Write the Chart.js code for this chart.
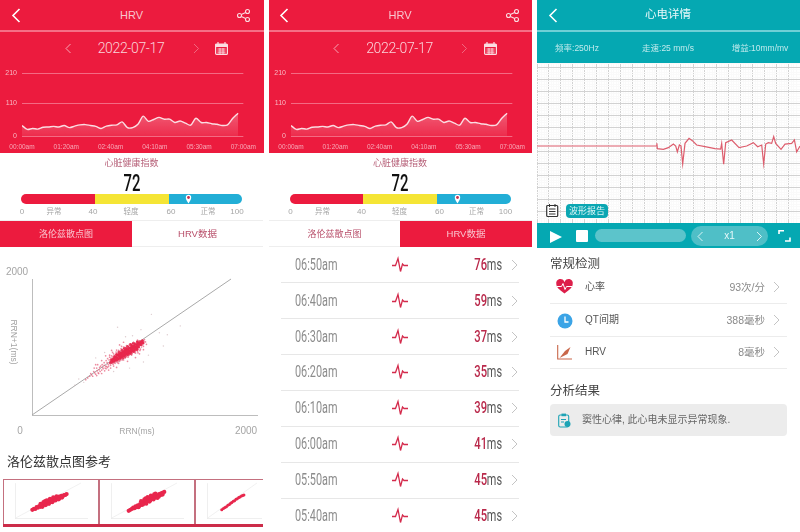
<!DOCTYPE html>
<html><head><meta charset="utf-8">
<script src="https://cdn.jsdelivr.net/npm/chart.js@4"></script>
<style>
html,body{margin:0;padding:0;background:#fff;width:800px;height:532px;overflow:hidden;font-family:"Liberation Sans","Noto Sans CJK SC",sans-serif}
#app{position:absolute;left:0;top:0;width:800px;height:532px;overflow:hidden;filter:blur(.3px)}
.b{position:absolute}
.t{position:absolute;white-space:nowrap;line-height:1}
canvas{position:absolute}
svg{position:absolute;overflow:visible}
</style></head><body><div id="app"></div>
<script>
// ---------- chart data ----------
const hrvMinutes=[0,10,20,30,40,50,60,70,80,90,100,110,120,130,140,150,160,170,180,190,200,210,220,230,240,250,260,270,280,290,300,310,320,330,340,350,360,370,380,390,400,410];
const hrvValues=[35,22,25,23,29,30,32,30,35,28,33,37,38,35,32,25,33,36,37,47,28,28,39,66,49,55,62,56,56,45,50,43,36,59,45,45,41,39,35,37,59,76];
const hrvTickPositions=[0,84,168,252,336,420];
const hrvTickLabels=["00:00am","01:20am","02:40am","04:10am","05:30am","07:00am"];
const hrvYTicks=[0,110,210];
const listTimes=["06:50am","06:40am","06:30am","06:20am","06:10am","06:00am","05:50am","05:40am"];
const listValues=[76,59,37,35,39,41,45,45];
const scoreValue=72;
const scoreLabels=[["0",22],["异常",54],["40",93],["轻度",131],["60",171],["正常",208],["100",237]];
const diagonal=[{x:0,y:0},{x:2000,y:2000}];
const scatterCoreXY=[[790,770],[800,810],[810,780],[820,830],[825,790],[835,815],[840,855],[850,805],[855,835],[865,880],[870,825],[880,860],[885,895],[890,845],[900,880],[905,915],[910,860],[920,900],[925,935],[930,875],[940,915],[945,950],[950,895],[960,930],[965,965],[970,905],[980,945],[985,985],[990,925],[1000,965],[1005,1000],[1010,940],[1020,985],[1025,1020],[1030,960],[1040,1000],[1045,1040],[1050,985],[1060,1020],[1065,1055],[1070,1000],[1080,1040],[1085,1075],[1095,1035],[1100,1065],[1110,1090],[1115,1060],[1060,1075],[1000,1020],[940,975],[880,915],[830,860],[850,890],[875,925],[905,950],[930,980],[960,1005],[990,1035],[1020,1055],[880,825],[910,840],[935,860],[965,885],[995,905],[1025,935],[1055,965]];
const scatterMidXY=[[560,545],[590,610],[610,570],[620,640],[640,600],[650,690],[665,620],[680,700],[685,640],[700,660],[705,740],[715,680],[725,770],[735,690],[745,800],[750,710],[760,830],[770,720],[780,850],[790,730],[800,870],[815,745],[820,900],[835,760],[845,925],[860,770],[870,950],[880,790],[895,975],[905,810],[920,1000],[935,835],[950,1020],[965,850],[980,1040],[1000,880],[1020,1070],[1040,910],[1060,1100],[1085,950],[1100,1000],[1130,1110],[1120,1010],[1140,1075],[700,610],[660,740],[770,660],[850,700],[960,790],[1040,845],[880,1030],[800,950],[740,870],[640,740],[700,800],[920,1070],[1080,900],[1150,1040],[1120,960],
[630,620],[655,650],[675,665],[690,720],[710,700],[725,730],[740,720],[755,770],[765,745],[775,810],[785,755],[795,835],[805,760],[815,860],[825,770],[835,880],[845,780],[855,910],[865,790],[875,930],[885,810],[895,940],[905,830],[915,960],[925,845],[935,990],[945,860],[955,1000],[970,875],[985,1015],[1000,895],[1015,1040],[1030,920],[1045,1060],[1060,935],[1075,1085],[1090,970],[760,700],[790,690],[820,720],[870,760],[920,810],[780,880],[810,920],[850,955],[900,1010],[730,650],[745,680],[670,610],[600,590],[580,570],[540,520],[650,580],[625,690],[1110,1030],[1125,1085],[1065,915]];
const scatterFarXY=[[1320,1015],[1490,1310],[1200,1480],[1095,1255],[860,1290],[470,530],[520,480],[980,690],[1170,880],[1360,1180],[730,920],[1010,1165],[1280,1210],[940,1150],[1120,780],[640,840],[820,640],[430,440]];
const thumb1XY=[[510,470],[560,530],[600,520],[640,620],[680,590],[720,680],[760,640],[780,760],[820,720],[850,830],[880,760],[910,880],[950,810],[980,940],[1010,860],[1040,990],[1070,920],[1100,1040],[1130,970],[1160,1090],[1190,1020],[1220,1130],[1250,1070],[1280,1180],[1310,1120],[1340,1220],[1370,1170],[1400,1260],[1440,1240],[1480,1310],[1520,1320],[1560,1365],[900,960],[1000,1000],[1100,950],[1200,1130],[1300,1210],[760,810],[850,910],[950,1010],[1050,1100],[1150,1180],[1250,1240],[820,640],[920,740],[1020,810],[1120,900],[1220,1000],[1320,1070],[1420,1170]];
const thumb2XY=[[520,410],[570,470],[620,520],[660,590],[700,560],[730,660],[770,620],[800,730],[840,680],[870,800],[910,750],[940,880],[980,820],[1010,960],[1050,880],[1080,1040],[1120,960],[1150,1120],[1190,1040],[1220,1180],[1260,1110],[1290,1240],[1330,1170],[1370,1300],[1410,1240],[1450,1360],[1500,1310],[1550,1440],[1610,1490],[1040,1130],[1180,1000],[1300,1350],[1440,1220],[900,960],[1000,1060],[1100,1200],[1200,1280],[1340,1400],[820,620],[950,760],[1060,820],[1160,940],[1280,1060],[1400,1150],[1500,1400],[1560,1340]];
const thumb3XY=[[570,470],[640,540],[700,600],[760,650],[820,730],[880,770],[930,850],[980,880],[1040,960],[1090,990],[1150,1070],[1200,1100],[1260,1170],[1310,1200],[1370,1260],[1420,1280],[1470,1310]];
const ecgMs=[-200,1795,1798,1806,1906,1989,2073,2112,2139,2173,2200,2228,2267,2334,2389,2461,2600,2767,2861,2878,2911,2945,3045,3167,3295,3406,3478,3545,3578,3612,3656,3711,3745,3778,3867,3934,4045,4090,4128,4184];
const ecgMv=[.23,.23,.34,.12,.09,.16,.31,.23,-.01,.27,.23,-.52,.34,.55,.45,.27,.2,.12,.1,.34,-.53,.37,.48,.16,.23,.37,.2,.27,-.52,.31,.37,.34,.62,.34,.09,.31,.34,.48,-.01,.23];

// ---------- helpers for the surrounding app UI ----------
const app=document.getElementById('app');
const RED='#ec1b3e',TEAL='#05a8b2';
function box(x,y,w,h,bg,extra){const d=document.createElement('div');d.className='b';d.style.cssText=`left:${x}px;top:${y}px;width:${w}px;height:${h}px;background:${bg};${extra||''}`;app.appendChild(d);return d;}
function txt(x,y,s,size,color,o){o=o||{};const d=document.createElement('div');d.className='t';d.textContent=s;
 const tx=o.align==='left'?'0':o.align==='right'?'-100%':'-50%';
 d.style.cssText=`left:${x}px;top:${y}px;font-size:${size}px;color:${color};transform:translate(${tx},-50%) ${o.tf||''};transform-origin:${o.align==='left'?'left':o.align==='right'?'right':'center'} center;${o.css||''}`;
 app.appendChild(d);return d;}
function svg(x,y,w,h,inner){const s=document.createElementNS('http://www.w3.org/2000/svg','svg');s.setAttribute('width',w);s.setAttribute('height',h);s.setAttribute('viewBox',`0 0 ${w} ${h}`);s.style.left=x+'px';s.style.top=y+'px';s.innerHTML=inner;app.appendChild(s);return s;}
function chev(cx,cy,size,color,dir,sw){const a=size,b=size/2*1;const p=dir<0?`${b},0 0,${a/2} ${b},${a}`:`0,0 ${b},${a/2} 0,${a}`;
 svg(cx-b/2,cy-a/2,b,a,`<polyline points="${p}" fill="none" stroke="${color}" stroke-width="${sw||1}"/>`);}
function shareIcon(x,y,c){svg(x,y,13,13,`<g fill="none" stroke="${c}" stroke-width="1.1"><circle cx="10.5" cy="2.5" r="2"/><circle cx="10.5" cy="10.5" r="2"/><circle cx="2.5" cy="6.5" r="2"/><path d="M4.3 5.6L8.7 3.4M4.3 7.4L8.7 9.6"/></g>`);}
function ecgIcon(cx,cy,c){svg(cx-8,cy-7,16,14,`<polyline points="0,7.5 3.5,7.5 6,0.5 8.5,13.5 10.5,6 12,7.5 16,7.5" fill="none" stroke="${c}" stroke-width="1.3"/>`);}

// ---------- HRV line charts ----------
function hrvChart(x0){
 const c=document.createElement('canvas');c.width=263;c.height=93;c.style.left=x0+'px';c.style.top='60px';c.style.width='263px';c.style.height='93px';app.appendChild(c);
 new Chart(c,{type:'line',data:{datasets:[{data:hrvMinutes.map((m,i)=>({x:m,y:hrvValues[i]})),borderColor:'#fbdde2',borderWidth:1.4,pointRadius:0,tension:.3,fill:'origin',
  backgroundColor:(ctx)=>{const a=ctx.chart.chartArea;if(!a)return 'rgba(255,255,255,.2)';const g=ctx.chart.ctx.createLinearGradient(0,a.bottom-25,0,a.bottom);g.addColorStop(0,'rgba(255,255,255,.3)');g.addColorStop(1,'rgba(255,255,255,.08)');return g;}}]},
 options:{responsive:false,animation:false,layout:{padding:{left:0,right:19,top:13,bottom:0}},plugins:{legend:{display:false},tooltip:{enabled:false}},
  scales:{x:{type:'linear',min:0,max:420,grid:{display:false,drawTicks:false,tickLength:0},border:{display:false},
    afterBuildTicks:s=>{s.ticks=hrvTickPositions.map(v=>({value:v}));},
    afterFit:s=>{s.height=17;},
    ticks:{autoSkip:false,maxRotation:0,color:'#f7a9b8',font:{size:6.5,family:'Liberation Sans'},padding:7,callback:(v)=>hrvTickLabels[hrvTickPositions.indexOf(v)]}},
   y:{min:0,max:210,grid:{color:'#f46a83',lineWidth:1,drawTicks:false},border:{display:false},
    afterBuildTicks:s=>{s.ticks=hrvYTicks.map(v=>({value:v}));},
    afterFit:s=>{s.width=22;},
    ticks:{color:'#f7b9c4',font:{size:7,family:'Liberation Sans'},padding:5}}}}});
}
function scatterChart(cfg){
 const c=document.createElement('canvas');c.width=cfg.w;c.height=cfg.h;c.style.left=cfg.x+'px';c.style.top=cfg.y+'px';c.style.width=cfg.w+'px';c.style.height=cfg.h+'px';app.appendChild(c);
 new Chart(c,{type:'scatter',data:{datasets:cfg.sets.map(s=>({data:s.xy.map(p=>({x:p[0],y:p[1]})),backgroundColor:s.color,pointRadius:s.r,pointBorderWidth:0,pointHoverRadius:s.r})).concat([{type:'line',data:diagonal,borderColor:cfg.diag,borderWidth:cfg.dw,pointRadius:0,fill:false}])},
 options:{responsive:false,animation:false,clip:false,layout:{padding:{left:cfg.pad[0],top:cfg.pad[1],right:cfg.pad[2],bottom:cfg.pad[3]}},plugins:{legend:{display:false},tooltip:{enabled:false}},
  scales:{x:{type:'linear',min:0,max:cfg.xMax,grid:{display:false},border:{color:cfg.axis,width:cfg.aw},ticks:{display:false},afterFit:s=>{s.height=0;}},
   y:{type:'linear',min:0,max:2000,grid:{display:false},border:{color:cfg.axis,width:cfg.aw},ticks:{display:false},afterFit:s=>{s.width=0;}}}}});
}

// ---------- panel 1 & 2 (HRV) ----------
function hrvPanel(x0,activeLeft){
 box(x0,0,263.5,153,RED);
 box(x0,30,263.5,1.5,'#f56f86');
 chev(x0+16,15,13,'#fff',-1,1.6);
 txt(x0+131.5,15,'HRV',11,'#f8c6cf');
 shareIcon(x0+237,8.5,'#fbdce1');
 chev(x0+68,48,9,'#f8b6c2',-1,.9);
 txt(x0+131,48,'2022-07-17',14,'#fad4da',{css:"font-family:Roboto;font-weight:300;letter-spacing:-.35px"});
 chev(x0+196,48,9,'#f26f86',1,.9);
 svg(x0+215,42,13,13,`<rect x=".6" y="2" width="11.8" height="10.4" rx="1" fill="none" stroke="#fbdde2" stroke-width="1.2"/><rect x=".6" y="2" width="11.8" height="3" fill="#fbdde2"/><path d="M3 0v3M10 0v3" stroke="#fbdde2" stroke-width="1.2"/><path d="M2.5 7h8M2.5 9h8M2.5 10.8h8M5 6v6M8 6v6" stroke="#fbdde2" stroke-width=".9"/>`);
 hrvChart(x0);
 txt(x0+131.5,163,'心脏健康指数',9,'#b7627a');
 txt(x0+131.5,182.5,String(scoreValue),24,'#111',{tf:'scaleX(.62)',css:'font-family:Roboto;font-weight:500'});
 box(x0+21,194,73.5,9.5,RED,'border-radius:5px 0 0 5px');
 box(x0+94.5,194,74,9.5,'#f5e535');
 box(x0+168.5,194,73.5,9.5,'#22aed6','border-radius:0 5px 5px 0');
 svg(x0+185,194,7,10,`<path d="M3.5 9.5C2 7 .8 5.5 .8 3.5a2.7 2.7 0 0 1 5.4 0C6.2 5.5 5 7 3.5 9.5z" fill="#fff"/><circle cx="3.5" cy="3.5" r="1.4" fill="#c5304d"/>`);
 scoreLabels.forEach(l=>txt(x0+l[1],212,l[0],l[0].length>1&&/[^0-9]/.test(l[0])?7.5:8,'#a5a5a5'));
 box(x0,220,263,.8,'#eee');box(x0,246,263,.8,'#eee');
 box(x0+(activeLeft?0:131.5),220.5,131.5,26,RED);
 txt(x0+66,233.5,'洛伦兹散点图',9,activeLeft?'#f9c4ce':'#b9506b');
 txt(x0+197.5,233.5,'HRV数据',9.5,activeLeft?'#b9506b':'#f9c4ce');
}
hrvPanel(0,true);
hrvPanel(268.5,false);

// panel 1 scatter
scatterChart({x:0,y:270,w:263,h:150,xMax:2261,pad:[32,9,6,5],axis:'#bdbdbd',aw:1,diag:'#a9a9a9',dw:1,
 sets:[{xy:scatterFarXY,color:'rgba(200,170,175,.6)',r:.7},{xy:scatterMidXY,color:'rgba(228,90,120,.7)',r:.85},{xy:scatterCoreXY,color:'#e8274d',r:1.6}]});
txt(17,272,'2000',10,'#a5a5a5');
txt(20,431,'0',10,'#a5a5a5');
txt(137,431,'RRN(ms)',8.5,'#a5a5a5');
txt(246,431,'2000',10,'#a5a5a5');
txt(14,342,'RRN+1(ms)',8.5,'#a5a5a5',{tf:'rotate(90deg)'});
txt(7,461,'洛伦兹散点图参考',13,'#333',{align:'left'});

// thumbnails
[[3,96,thumb1XY],[99,96,thumb2XY],[195,68,thumb3XY]].forEach((t,i)=>{
 box(t[0],479,t[1],45,'transparent',`box-sizing:border-box;border:1.6px solid #c4707f;border-bottom:none;${i===2?'border-right:none;':''}`);
 box(t[0],524,t[1],2.6,'#cc2c49');
 const orig=12.7+96*i+3; // origin of the thumbnail plot
 scatterChart({x:t[0]+1,y:480,w:i===2?67:94,h:42,xMax:2184,pad:[orig-t[0]-1,3,i===2?-20:94-(orig-t[0]-1)-71.3,4],axis:'#e8e8e8',aw:.7,diag:'#ebebeb',dw:.7,
  sets:[{xy:t[2],color:'#e8274d',r:i===2?1.5:2.1}]});
});

// panel 2 list
listTimes.forEach((tm,i)=>{
 const y=[265,301,337,372,408,444,480,516][i];
 txt(295,y,tm,16,'#8c8c8c',{align:'left',tf:'scaleX(.68)',css:'font-family:Roboto'});
 ecgIcon(400,y,'#d42b4c');
 txt(486.5,y,String(listValues[i]),16,'#b9284a',{align:'right',tf:'scaleX(.7)',css:'font-family:Roboto;font-weight:500'});
 txt(502,y,'ms',16,'#555',{align:'right',tf:'scaleX(.68)',css:'font-family:Roboto'});
 chev(514.5,y,10,'#bdbdbd',1,.9);
 if(i<7)box(281,[282,318,354,390,426,462,498][i],238,.8,'#e7e7e7');
});

// ---------- panel 3 (ECG) ----------
box(537,0,263,63,TEAL);
box(537,30,263,1.5,'#6fd0d6');
chev(553,15,13,'#fff',-1,1.6);
txt(668,15,'心电详情',11.5,'#e7f8f9');
txt(577,47.5,'频率:250Hz',8.5,'#bfeaec');
txt(668,47.5,'走速:25 mm/s',8.5,'#bfeaec');
txt(760,47.5,'增益:10mm/mv',8.5,'#bfeaec');
(function(){
 const c=document.createElement('canvas');c.width=263;c.height=160;c.style.left='537px';c.style.top='63px';c.style.width='263px';c.style.height='160px';app.appendChild(c);
 const major=(v,st)=>Math.abs(v/st-Math.round(v/st))<1e-6;
 const xMin=-200,xMax=-200+263/12*200,yMax=(151.5-63)/24,yMin=(151.5-223)/24;
 new Chart(c,{type:'line',data:{datasets:[{data:ecgMs.map((t,i)=>({x:t,y:ecgMv[i]})),borderColor:'#dd5d6d',borderWidth:1.2,pointRadius:0,tension:0}]},
 options:{responsive:false,animation:false,layout:{padding:0},plugins:{legend:{display:false},tooltip:{enabled:false}},
  scales:{x:{type:'linear',min:xMin,max:xMax,border:{display:false},ticks:{display:false,stepSize:40,autoSkip:false},afterFit:s=>{s.height=0;},
     grid:{drawTicks:false,color:ctx=>major(ctx.tick.value,200)?'#d2d2d2':'#fafafa'}},
   y:{type:'linear',min:yMin,max:yMax,border:{display:false},ticks:{display:false,stepSize:.1,autoSkip:false},afterFit:s=>{s.width=0;},
     grid:{drawTicks:false,color:ctx=>major(ctx.tick.value,.5)?'#d2d2d2':'#fafafa'}}}}});
})();
svg(546,204,13,13,`<rect x=".7" y="1.5" width="11" height="11" rx="1" fill="#fff" stroke="#333" stroke-width="1.2"/><path d="M3 5h6.5M3 7.5h6.5M3 10h6.5M3.5 0v3M9 0v3" stroke="#333" stroke-width="1"/>`);
box(566,203.5,42,14,'#0aa6b2','border-radius:4px');
txt(587,210.5,'波形报告',9,'#d9f4f5');
box(537,223,263,25,TEAL);
svg(549.5,231,12,12,`<polygon points="0,0 12,6 0,12" fill="#fff"/>`);
box(576,230,12,12,'#fff','border-radius:1px');
box(594.5,229,91,13,'#5cc4cb','border-radius:7px');
box(691,226,77,20,'#4fbfc7','border-radius:10px');
chev(700,236,9,'#d9f4f5',-1,1);
txt(729.5,236,'x1',10,'#e6f8f9');
chev(759,236,9,'#d9f4f5',1,1);
svg(779,230,11,12,`<path d="M0 4V0.8H5M11 7.5V11H6" fill="none" stroke="#fff" stroke-width="1.6"/>`);

txt(550,263.5,'常规检测',12.5,'#444',{align:'left'});
const checkRows=[["心率","93次/分",287],["QT间期","388毫秒",320],["HRV","8毫秒",352]];
checkRows.forEach((r,i)=>{
 txt(585,r[2],r[0],10,'#555',{align:'left'});
 txt(765,r[2],r[1],10.5,'#8a8a8a',{align:'right'});
 chev(776,r[2],10,'#bdbdbd',1,.9);
 box(550,r[2]+16,237,.8,'#ececec');
});
svg(555.5,280,17,14,`<path d="M8.5 13.5C3 9.5 0.3 7 .3 4A3.9 3.9 0 0 1 8.5 2.2 3.9 3.9 0 0 1 16.7 4C16.7 7 14 9.5 8.5 13.5z" fill="#dd1f4a"/><polyline points="1,6.5 5.5,6.5 7,3.5 9,9.5 10.5,6.5 16,6.5" fill="none" stroke="#fff" stroke-width="1"/>`);
svg(556.5,312.5,16,16,`<circle cx="8" cy="8" r="7.5" fill="#3ba4e6"/><path d="M8 3.5V9H11.5" fill="none" stroke="#fff" stroke-width="1.3"/>`);
svg(556.5,345,15,15,`<path d="M.7 0V14H15" fill="none" stroke="#c9674a" stroke-width="1.1"/><path d="M2.5 13L8 6 13.5 2 10.5 9z" fill="#c9674a"/>`);
txt(550,390.5,'分析结果',12.5,'#444',{align:'left'});
box(550,404,237,32,'#ececec','border-radius:4px');
svg(558,413,13,15,`<rect x=".7" y="2" width="10" height="12" rx="1.5" fill="none" stroke="#1da3b5" stroke-width="1.1"/><rect x="3.5" y=".6" width="4.5" height="2.6" fill="#1da3b5"/><path d="M3 6.5h5M3 9h3" stroke="#1da3b5" stroke-width="1"/><circle cx="9.5" cy="11" r="3" fill="#1da3b5"/>`);
txt(582,420,'窦性心律, 此心电未显示异常现象.',10,'#666',{align:'left'});
</script></body></html>
